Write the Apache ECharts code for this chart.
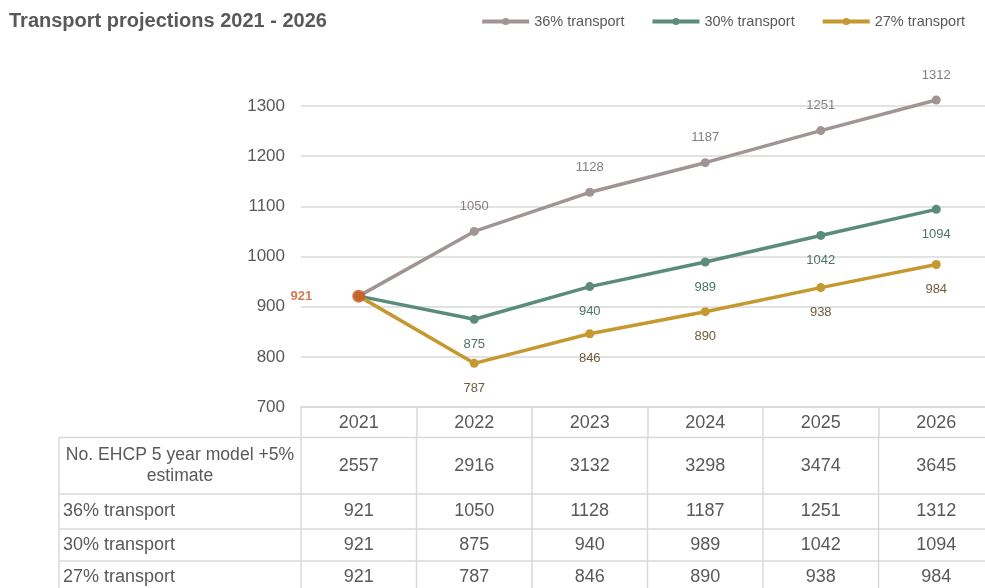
<!DOCTYPE html>
<html><head><meta charset="utf-8">
<script src="https://cdn.jsdelivr.net/npm/echarts@6/dist/echarts.min.js"></script>
<style>html,body{margin:0;padding:0;background:#fff}#c{width:985px;height:588px}</style>
</head><body><div id="c"></div>
<script>
const years = ['2021','2022','2023','2024','2025','2026'];
const ehcp = [2557, 2916, 3132, 3298, 3474, 3645];
const t36 = [921, 1050, 1128, 1187, 1251, 1312];
const t30 = [921, 875, 940, 989, 1042, 1094];
const t27 = [921, 787, 846, 890, 938, 984];
const seriesNames = ['36% transport', '30% transport', '27% transport'];
const rowLabels = ['No. EHCP 5 year model +5%\nestimate', '36% transport', '30% transport', '27% transport'];
const yTicks = [700, 800, 900, 1000, 1100, 1200, 1300];

const FONT = 'Liberation Sans, Arial, sans-serif';
const TXT = '#595959';
const GRID = '#D9D9D9';
const lineColors = ['#A09494', '#5B8B7B', '#C4992F'];
const labelColors = ['#857C7C', '#4C7566', '#6E5C3A'];
const labelPos = ['top', 'bottom', 'bottom'];
const seriesData = [t36, t30, t27];

const chart = echarts.init(document.getElementById('c'), null, {renderer: 'canvas'});

function lineSeries(i) {
  return {
    name: seriesNames[i], type: 'line', clip: false,
    data: seriesData[i].map((v, k) => k === 0 ? {value: v, label: {show: false}} : v),
    symbol: 'circle', symbolSize: 9,
    lineStyle: {width: 3.5, color: lineColors[i]},
    itemStyle: {color: lineColors[i]},
    label: {show: true, position: labelPos[i], distance: 14, color: labelColors[i], fontSize: 13, fontFamily: FONT},
    z: 3 + i
  };
}

const option = {
  animation: false,
  title: {text: 'Transport projections 2021 - 2026', left: 4, top: 6,
    textStyle: {fontFamily: FONT, fontSize: 20, fontWeight: 'bold', color: TXT}},
  legend: {right: 15, top: 9, itemWidth: 47, itemHeight: 9, itemGap: 26,
    data: seriesNames,
    lineStyle: {width: 4},
    textStyle: {fontFamily: FONT, fontSize: 14.5, color: TXT, padding: [0, 0, 0, 0]}},
  grid: {left: 301, top: 106, height: 301, width: 693, outerBoundsMode: 'none', containLabel: false},
  xAxis: {type: 'category', data: years, boundaryGap: true,
    axisLine: {show: true, lineStyle: {color: GRID, width: 1.5}},
    axisTick: {show: true, length: 30, inside: false, lineStyle: {color: GRID, width: 1.5}},
    axisLabel: {show: true, margin: 7, fontFamily: FONT, fontSize: 18, color: TXT}},
  yAxis: {type: 'value', min: yTicks[0], max: yTicks[yTicks.length - 1], interval: 100,
    axisLine: {show: false}, axisTick: {show: false},
    axisLabel: {margin: 16, fontFamily: FONT, fontSize: 17, color: TXT, formatter: v => String(v)},
    splitLine: {lineStyle: {color: GRID, width: 1.5}}},
  series: [lineSeries(0), lineSeries(1), lineSeries(2),
    {type: 'scatter', name: 'start', data: [[years[0], t36[0]]], symbolSize: 13,
     itemStyle: {color: '#C65A24'}, z: 10,
     label: {show: true, position: 'left', distance: 40, color: '#C65A24', fontSize: 13, fontWeight: 'bold', fontFamily: FONT}}]
};
chart.setOption(option);

// table below the plot, columns taken from the category axis
const centers = years.map((y, i) => chart.convertToPixel({xAxisIndex: 0}, i));
const band = centers.length > 1 ? centers[1] - centers[0] : 115;
const colEdges = [centers[0] - band / 2].concat(centers.map(c => c + band / 2));
const tableLeft = 59;
const rowEdges = [437.5, 494, 529, 561, 594];
const rowValues = [ehcp, t36, t30, t27];
const g = [];
const right = colEdges[colEdges.length - 1];
rowEdges.forEach(y => g.push({type: 'line', shape: {x1: tableLeft, y1: y, x2: right, y2: y}, style: {stroke: GRID, lineWidth: 1.5}}));
[tableLeft].concat(colEdges).forEach(x => g.push({type: 'line', shape: {x1: x, y1: rowEdges[0], x2: x, y2: 594}, style: {stroke: GRID, lineWidth: 1.5}}));
rowLabels.forEach((lab, r) => {
  const cy = (rowEdges[r] + rowEdges[r + 1]) / 2;
  const centered = r === 0;
  g.push({type: 'text', x: centered ? (tableLeft + colEdges[0]) / 2 : tableLeft + 4, y: cy,
    style: {text: lab, fontFamily: FONT, fontSize: centered ? 17.6 : 18, fill: TXT, lineHeight: 21,
      align: centered ? 'center' : 'left', verticalAlign: 'middle'}});
  rowValues[r].forEach((v, k) => {
    g.push({type: 'text', x: centers[k], y: cy,
      style: {text: String(v), fontFamily: FONT, fontSize: 18, fill: TXT, align: 'center', verticalAlign: 'middle'}});
  });
});
chart.setOption({graphic: {elements: g}});
</script></body></html>
